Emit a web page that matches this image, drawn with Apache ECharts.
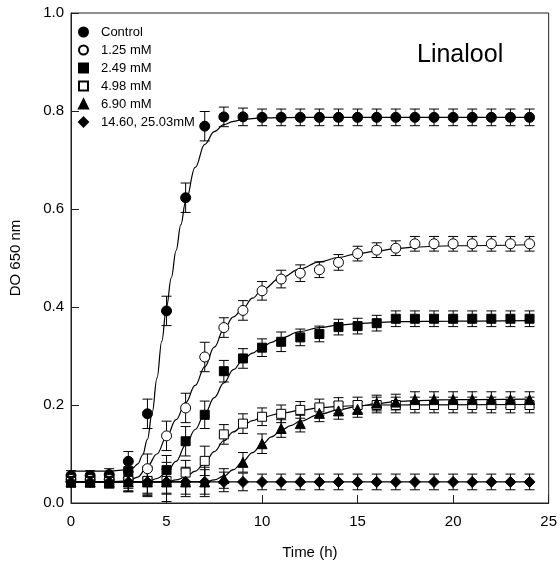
<!DOCTYPE html>
<html>
<head>
<meta charset="utf-8">
<script src="https://cdn.jsdelivr.net/npm/echarts@6/dist/echarts.min.js"></script>
<style>
  html, body { margin: 0; padding: 0; background: #fff; }
  #chart { width: 560px; height: 567px; }
</style>
</head>
<body>
<div id="chart"></div>
<script>
// sampling times (h)
const hours = [0,1,2,3,4,5,6,7,8,9,10,11,12,13,14,15,16,17,18,19,20,21,22,23,24];

// measured DO 650 nm
const control = [0.056,0.056,0.058,0.085,0.182,0.392,0.623,0.769,0.788,0.788,0.787,0.787,0.787,0.787,0.787,0.787,0.787,0.787,0.787,0.787,0.787,0.787,0.787,0.787,0.787];
const c125 = [0.048,0.048,0.048,0.050,0.070,0.137,0.194,0.298,0.358,0.393,0.433,0.457,0.469,0.476,0.491,0.509,0.516,0.520,0.529,0.529,0.529,0.529,0.529,0.529,0.529];
const c249 = [0.045,0.045,0.045,0.065,0.045,0.067,0.126,0.180,0.269,0.295,0.317,0.329,0.338,0.345,0.359,0.361,0.367,0.376,0.376,0.376,0.376,0.376,0.376,0.376,0.376];
const c498 = [0.043,0.043,0.043,0.045,0.045,0.045,0.062,0.086,0.140,0.162,0.176,0.182,0.190,0.195,0.199,0.200,0.200,0.200,0.200,0.200,0.200,0.200,0.200,0.200,0.200];
const c690 = [0.043,0.043,0.043,0.043,0.043,0.043,0.043,0.043,0.050,0.083,0.121,0.152,0.162,0.183,0.188,0.191,0.204,0.206,0.211,0.211,0.211,0.211,0.211,0.211,0.211];
const cHigh = [0.043,0.043,0.043,0.043,0.043,0.043,0.043,0.043,0.043,0.043,0.043,0.043,0.043,0.043,0.043,0.043,0.043,0.043,0.043,0.043,0.043,0.043,0.043,0.043,0.043];

// error (+/-)
const errControl = [0.010,0.010,0.012,0.020,0.030,0.030,0.030,0.030,0.020,0.018,0.017,0.017,0.017,0.017,0.017,0.017,0.017,0.017,0.017,0.017,0.017,0.017,0.017,0.017,0.017];
const err125 = [0.010,0.010,0.010,0.020,0.030,0.030,0.030,0.030,0.020,0.020,0.019,0.018,0.017,0.016,0.016,0.015,0.015,0.015,0.015,0.015,0.015,0.015,0.015,0.015,0.015];
const err249 = [0.010,0.010,0.012,0.020,0.030,0.030,0.030,0.028,0.022,0.020,0.018,0.020,0.017,0.016,0.016,0.016,0.016,0.016,0.016,0.016,0.016,0.016,0.016,0.016,0.016];
const err498 = [0.010,0.010,0.012,0.020,0.025,0.025,0.025,0.030,0.020,0.020,0.018,0.018,0.017,0.017,0.016,0.016,0.016,0.016,0.016,0.016,0.016,0.016,0.016,0.016,0.016];
const err690 = [0.010,0.010,0.012,0.020,0.025,0.025,0.025,0.025,0.020,0.020,0.020,0.018,0.017,0.017,0.017,0.016,0.016,0.016,0.016,0.016,0.016,0.016,0.016,0.016,0.016];
const errHigh = [0.010,0.010,0.012,0.020,0.030,0.040,0.030,0.030,0.020,0.018,0.016,0.016,0.016,0.016,0.016,0.016,0.016,0.016,0.016,0.016,0.016,0.016,0.016,0.016,0.016];

// fitted curves
const fitControlT = [0,1,2,3,3.25,3.5,3.75,4,4.25,4.5,4.75,5,5.25,5.5,5.75,6,6.5,7,7.5,8,8.5,9,10,12,24];
const fitControlY = [0.065,0.065,0.065,0.068,0.072,0.080,0.098,0.130,0.185,0.255,0.330,0.400,0.460,0.515,0.568,0.615,0.685,0.732,0.758,0.772,0.779,0.783,0.786,0.787,0.787];
const fit125T = [0,2,3,3.5,4,4.5,5,5.5,6,6.5,7,7.5,8,8.5,9,9.5,10,11,12,13,14,15,16,17,18,19,20,24];
const fit125Y = [0.043,0.043,0.045,0.053,0.075,0.100,0.135,0.170,0.205,0.240,0.278,0.318,0.355,0.380,0.397,0.418,0.435,0.460,0.478,0.492,0.501,0.509,0.514,0.519,0.522,0.524,0.525,0.527];
const fit249T = [0,4,4.5,5,5.5,6,6.5,7,7.5,8,8.5,9,9.5,10,10.5,11,12,13,14,15,16,17,20,24];
const fit249Y = [0.043,0.043,0.050,0.062,0.085,0.118,0.150,0.182,0.215,0.245,0.272,0.292,0.306,0.318,0.328,0.337,0.350,0.358,0.363,0.366,0.368,0.370,0.371,0.372];
const fit498T = [0,5,5.5,6,6.5,7,7.5,8,8.5,9,9.5,10,11,12,13,14,15,16,24];
const fit498Y = [0.043,0.043,0.047,0.053,0.065,0.082,0.105,0.127,0.145,0.158,0.168,0.175,0.183,0.189,0.194,0.197,0.199,0.200,0.201];
const fit690T = [0,7,7.5,8,8.5,9,9.5,10,10.5,11,11.5,12,13,14,15,16,17,18,20,24];
const fit690Y = [0.043,0.043,0.047,0.055,0.068,0.085,0.103,0.120,0.135,0.148,0.158,0.167,0.181,0.190,0.197,0.203,0.207,0.209,0.211,0.212];
const fitHighT = [0,24];
const fitHighY = [0.043,0.043];

const names = ['Control', '1.25 mM', '2.49 mM', '4.98 mM', '6.90 mM', '14.60, 25.03mM'];
const FONT = "'Liberation Sans', Arial, sans-serif";

const groups = [
  { name: names[0], v: control, e: errControl, ft: fitControlT, fy: fitControlY, symbol: 'circle', size: 10, fill: '#000' },
  { name: names[1], v: c125, e: err125, ft: fit125T, fy: fit125Y, symbol: 'circle', size: 10, fill: '#fff' },
  { name: names[2], v: c249, e: err249, ft: fit249T, fy: fit249Y, symbol: 'rect', size: 9, fill: '#000' },
  { name: names[3], v: c498, e: err498, ft: fit498T, fy: fit498Y, symbol: 'rect', size: 9, fill: '#fff' },
  { name: names[4], v: c690, e: err690, ft: fit690T, fy: fit690Y, symbol: 'triangle', size: 10, fill: '#000' },
  { name: names[5], v: cHigh, e: errHigh, ft: fitHighT, fy: fitHighY, symbol: 'diamond', size: 11, fill: '#000' },
];

function errorBar(params, api) {
  const x = api.value(0);
  const top = api.coord([x, api.value(2)]);
  const bot = api.coord([x, api.value(1)]);
  const w = 5;
  const st = { stroke: '#000', lineWidth: 1 };
  return {
    type: 'group',
    children: [
      { type: 'line', shape: { x1: top[0], y1: top[1], x2: bot[0], y2: bot[1] }, style: st },
      { type: 'line', shape: { x1: top[0] - w, y1: top[1], x2: top[0] + w, y2: top[1] }, style: st },
      { type: 'line', shape: { x1: bot[0] - w, y1: bot[1], x2: bot[0] + w, y2: bot[1] }, style: st },
    ],
  };
}

const series = [];
groups.forEach(g => {
  series.push({
    type: 'line',
    name: g.name + ' fit',
    data: g.ft.map((t, i) => [t, g.fy[i]]),
    smooth: 0.4,
    smoothMonotone: 'x',
    showSymbol: false,
    lineStyle: { color: '#000', width: 1.2 },
    z: 2,
    silent: true,
  });
});
groups.forEach(g => {
  series.push({
    type: 'custom',
    name: g.name + ' err',
    renderItem: errorBar,
    data: hours.map((t, i) => [t, g.v[i] - g.e[i], g.v[i] + g.e[i]]),
    z: 3,
    silent: true,
  });
});
groups.forEach(g => {
  series.push({
    type: 'scatter',
    name: g.name,
    data: hours.map((t, i) => [t, g.v[i]]),
    symbol: g.symbol,
    symbolSize: g.size,
    itemStyle: { color: g.fill, borderColor: '#000', borderWidth: 1, opacity: 1 },
    z: 4,
  });
});

const chart = echarts.init(document.getElementById('chart'));
chart.setOption({
  animation: false,
  backgroundColor: '#fff',
  grid: {
    left: 69, right: 8, top: 13, bottom: 64,
    show: true, borderColor: '#222', borderWidth: 1, backgroundColor: 'transparent',
  },
  legend: {
    data: names,
    orient: 'vertical',
    left: 73,
    top: 20,
    itemWidth: 9,
    itemHeight: 9,
    itemGap: 4,
    selectedMode: false,
    textStyle: { fontFamily: FONT, fontSize: 13, color: '#000', lineHeight: 14, padding: [0, 0, 0, 8] },
  },
  graphic: [
    {
      type: 'text',
      left: 417,
      top: 43,
      style: { text: 'Linalool', font: "25px 'Liberation Sans', Arial, sans-serif", fill: '#000' },
    },
  ],
  xAxis: {
    type: 'value',
    min: 0, max: 25, interval: 5,
    name: 'Time (h)',
    nameLocation: 'middle',
    nameGap: 42,
    nameTextStyle: { fontFamily: FONT, fontSize: 15, color: '#000' },
    axisLine: { lineStyle: { color: '#222', width: 1 } },
    axisTick: { inside: true, length: 8, lineStyle: { color: '#222' } },
    axisLabel: { fontFamily: FONT, fontSize: 15, color: '#000', margin: 11 },
    splitLine: { show: false },
  },
  yAxis: {
    type: 'value',
    min: 0, max: 1, interval: 0.2,
    name: 'DO 650 nm',
    nameLocation: 'middle',
    nameGap: 48,
    nameTextStyle: { fontFamily: FONT, fontSize: 15, color: '#000' },
    axisLine: { lineStyle: { color: '#222', width: 1 } },
    axisTick: { inside: true, length: 8, lineStyle: { color: '#222' } },
    axisLabel: { fontFamily: FONT, fontSize: 15, color: '#000', margin: 7, formatter: v => v.toFixed(1) },
    splitLine: { show: false },
  },
  series: series,
});
</script>
</body>
</html>
